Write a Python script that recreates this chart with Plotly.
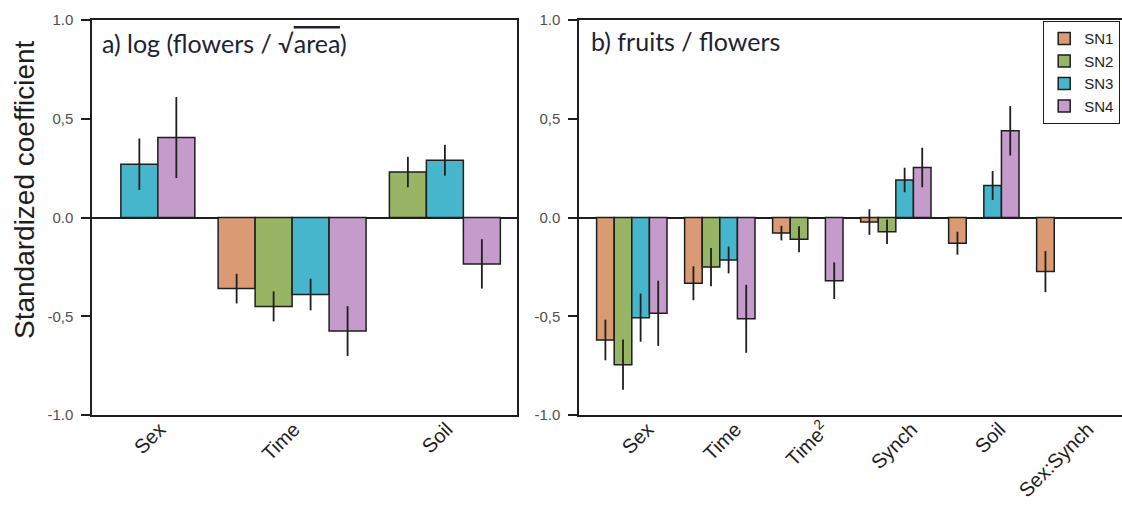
import plotly.graph_objects as go

# ---------------- data ----------------
SERIES = ["SN1", "SN2", "SN3", "SN4"]
SERIES_COLORS = ["#D99A74", "#97B565", "#46B6CC", "#C49BCB"]

# panel a) log(flowers / sqrt(area))
A_CATEGORIES = ["Sex", "Time", "Soil"]
A_SN1 = [None, -0.36, None]
A_SN2 = [None, -0.45, 0.23]
A_SN3 = [0.27, -0.39, 0.29]
A_SN4 = [0.405, -0.575, -0.235]
A_ERR_SN1 = [None, 0.075, None]
A_ERR_SN2 = [None, 0.076, 0.077]
A_ERR_SN3 = [0.13, 0.08, 0.078]
A_ERR_SN4 = [0.205, 0.126, 0.125]

# panel b) fruits / flowers
B_CATEGORIES = ["Sex", "Time", "Time<sup>2</sup>", "Synch", "Soil", "Sex:Synch"]
B_SN1 = [-0.62, -0.333, -0.079, -0.023, -0.13, -0.274]
B_SN2 = [-0.745, -0.251, -0.11, -0.072, None, None]
B_SN3 = [-0.507, -0.215, None, 0.19, 0.162, None]
B_SN4 = [-0.485, -0.513, -0.32, 0.253, 0.439, None]
B_ERR_SN1 = [0.103, 0.086, 0.037, 0.065, 0.058, 0.104]
B_ERR_SN2 = [0.127, 0.097, 0.066, 0.062, None, None]
B_ERR_SN3 = [0.122, 0.068, None, 0.062, 0.073, None]
B_ERR_SN4 = [0.165, 0.172, 0.093, 0.1, 0.125, None]

Y_TICKS = [-1.0, -0.5, 0.0, 0.5, 1.0]
Y_TICK_LABELS = ["-1.0", "-0,5", "0.0", "0,5", "1.0"]

TITLE_A = "a) log (flowers / √<span style=\"text-decoration:overline\">area</span>)"
TITLE_B = "b) fruits / flowers"
Y_TITLE = "Standardized coefficient"

# ---------------- layout helpers ----------------
W, H = 1122, 510
INK = "#1e1e1e"
SANS = "Arial"


def slot_positions(values, compact, gap):
    """Return bar centres per series, group centres and end of last group."""
    n_cat = len(values[0])
    xs = [[None] * n_cat for _ in values]
    centers = []
    pos = 0.0
    for c in range(n_cat):
        start = pos
        for s, vals in enumerate(values):
            if vals[c] is not None or not compact:
                xs[s][c] = pos + 0.5
                pos += 1
        centers.append((start + pos) / 2)
        pos += gap
    return xs, centers, pos - gap


fig = go.Figure()


def add_panel(values, errors, compact, gap, xa, ya, show_legend):
    xs, centers, end = slot_positions(values, compact, gap)
    for s, name in enumerate(SERIES):
        px, py, pe = [], [], []
        for c, v in enumerate(values[s]):
            if v is not None:
                px.append(xs[s][c])
                py.append(v)
                pe.append(errors[s][c])
        fig.add_trace(go.Bar(
            x=px, y=py, width=1.0, name=name, legendgroup=name,
            showlegend=show_legend, xaxis=xa, yaxis=ya,
            marker=dict(color=SERIES_COLORS[s], line=dict(color=INK, width=1.5)),
            error_y=dict(type="data", array=pe, width=0, thickness=1.8, color=INK),
        ))
    return centers, end


a_centers, a_end = add_panel([A_SN1, A_SN2, A_SN3, A_SN4],
                             [A_ERR_SN1, A_ERR_SN2, A_ERR_SN3, A_ERR_SN4],
                             compact=True, gap=0.63, xa="x", ya="y", show_legend=False)
b_centers, b_end = add_panel([B_SN1, B_SN2, B_SN3, B_SN4],
                             [B_ERR_SN1, B_ERR_SN2, B_ERR_SN3, B_ERR_SN4],
                             compact=False, gap=1.0, xa="x2", ya="y2", show_legend=True)

# rotated labels sit a little right of their group centre (in bar-width units)
A_LABEL_SHIFT = 0.05
B_LABEL_SHIFT = 0.9

Y_DOMAIN = [(H - 415) / H, (H - 20) / H]

common_x = dict(
    showline=True, linecolor=INK, linewidth=1.5, mirror=True,
    showgrid=False, zeroline=False, ticks="", tickangle=-45,
    tickfont=dict(family=SANS, size=20, color=INK),
    ticklabelstandoff=-7, automargin=False,
)
common_y = dict(
    range=[-1.0, 1.0], tickvals=Y_TICKS, ticktext=Y_TICK_LABELS,
    showline=True, linecolor=INK, linewidth=1.5,
    ticks="outside", ticklen=9, tickwidth=1.5, tickcolor=INK,
    tickfont=dict(family=SANS, size=15, color="#505050"),
    showgrid=False, zeroline=True, zerolinecolor=INK, zerolinewidth=1.5,
    domain=Y_DOMAIN, ticklabelstandoff=5, automargin=False,
)

fig.update_layout(
    width=W, height=H,
    margin=dict(l=0, r=0, t=0, b=0, autoexpand=False),
    paper_bgcolor="white", plot_bgcolor="white",
    barmode="overlay",
    font=dict(family=SANS),
    xaxis=dict(common_x, domain=[92 / W, 517 / W], range=[-0.78, a_end + 0.45],
               tickvals=[c + A_LABEL_SHIFT for c in a_centers],
               ticktext=A_CATEGORIES, anchor="y"),
    yaxis=dict(common_y, mirror=True, anchor="x"),
    xaxis2=dict(common_x, domain=[579 / W, 1.0], range=[-1.0, b_end + 0.85],
                tickvals=[c + B_LABEL_SHIFT for c in b_centers],
                ticktext=B_CATEGORIES, anchor="y2"),
    yaxis2=dict(common_y, mirror=False, anchor="x2"),
    legend=dict(
        x=1043 / W, y=(H - 21) / H, xanchor="left", yanchor="top",
        bordercolor=INK, borderwidth=1.2, bgcolor="white",
        font=dict(family=SANS, size=15, color=INK),
        traceorder="normal", tracegroupgap=0,
    ),
    annotations=[
        dict(text=TITLE_A, xref="paper", yref="paper", x=100 / W, y=(H - 43) / H,
             xanchor="left", yanchor="middle", showarrow=False,
             font=dict(family="Lato", size=25, color="#1c2333")),
        dict(text=TITLE_B, xref="paper", yref="paper", x=589 / W, y=(H - 41) / H,
             xanchor="left", yanchor="middle", showarrow=False,
             font=dict(family="Lato", size=25, color="#1c2333")),
        dict(text=Y_TITLE, xref="paper", yref="paper", x=24 / W, y=(H - 190) / H,
             xanchor="center", yanchor="middle", textangle=-90, showarrow=False,
             font=dict(family=SANS, size=28, color=INK)),
    ],
)

fig.write_html("out.html")
